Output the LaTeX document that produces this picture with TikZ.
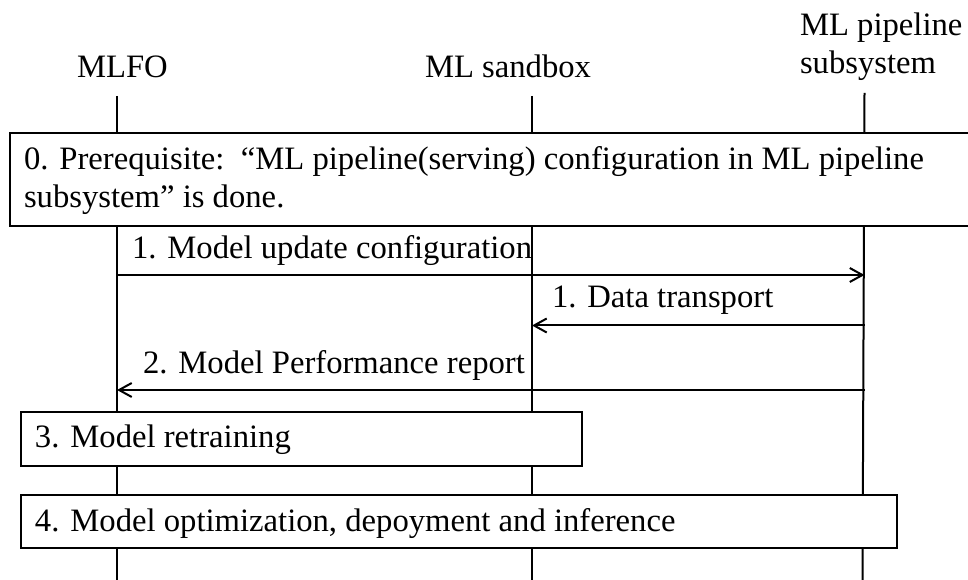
\documentclass[tikz,border=0pt]{standalone}
\usepackage{fontspec}
\setmainfont{Liberation Serif}
\usetikzlibrary{arrows.meta}
\begin{document}
\begin{tikzpicture}[x=0.75pt,y=-0.75pt,
  every node/.style={font=\fontsize{24.5}{28.5}\selectfont, inner sep=0pt, outer sep=0pt},
  lifeline/.style={line width=1.5pt},
  stepbox/.style={draw, line width=1.5pt, fill=white, rectangle, anchor=north west, inner sep=0pt},
  msg/.style={line width=1.5pt, -{Straight Barb[length=9.5pt,width=10.5pt,line width=1.5pt]}},
  lbl/.style={anchor=base west}]
\clip (0,0) rectangle (968,580);

% participants
\node[lbl] (hMLFO) at (77,78) {MLFO};
\node[lbl] (hSand) at (425,78) {ML sandbox};
\node[lbl] (hPipeA) at (800,36) {ML pipeline};
\node[lbl] (hPipeB) at (800,74) {subsystem};

% lifelines
\coordinate (mlfoT) at (117,96);
\coordinate (mlfoB) at (117,582);
\coordinate (sandT) at (532,96);
\coordinate (sandB) at (532,582);
\coordinate (pipeT) at (864.5,93);
\coordinate (pipeB) at (862.5,582);
\draw[lifeline] (mlfoT) -- (mlfoB);
\draw[lifeline] (sandT) -- (sandB);
\draw[lifeline] (pipeT) -- (pipeB);

% step 0
\node[stepbox, minimum width=735pt, minimum height=69.75pt] (s0) at (10,133) {};
\node[lbl] (s0a) at (24,170) {0. Prerequisite:\ \ “ML pipeline(serving) configuration in ML pipeline};
\node[lbl] (s0b) at (24,208) {subsystem” is done.};

% messages
\draw[msg] (mlfoT |- 0,275) -- (pipeT |- 0,275);
\node[lbl] (m1) at (132,259) {1. Model update configuration};
\draw[msg] (pipeT |- 0,325.5) -- (sandT |- 0,325.5);
\node[lbl] (m2) at (552,308) {1. Data transport};
\draw[msg] (pipeT |- 0,390) -- (mlfoT |- 0,390);
\node[lbl] (m3) at (143,374) {2. Model Performance report};

% step 3
\node[stepbox, minimum width=420.75pt, minimum height=40.5pt] (s3) at (21,412) {};
\node[lbl] (s3t) at (35,448) {3. Model retraining};

% step 4
\node[stepbox, minimum width=657pt, minimum height=39.75pt] (s4) at (21,495) {};
\node[lbl] (s4t) at (35,532) {4. Model optimization, depoyment and inference};
\end{tikzpicture}
\end{document}
